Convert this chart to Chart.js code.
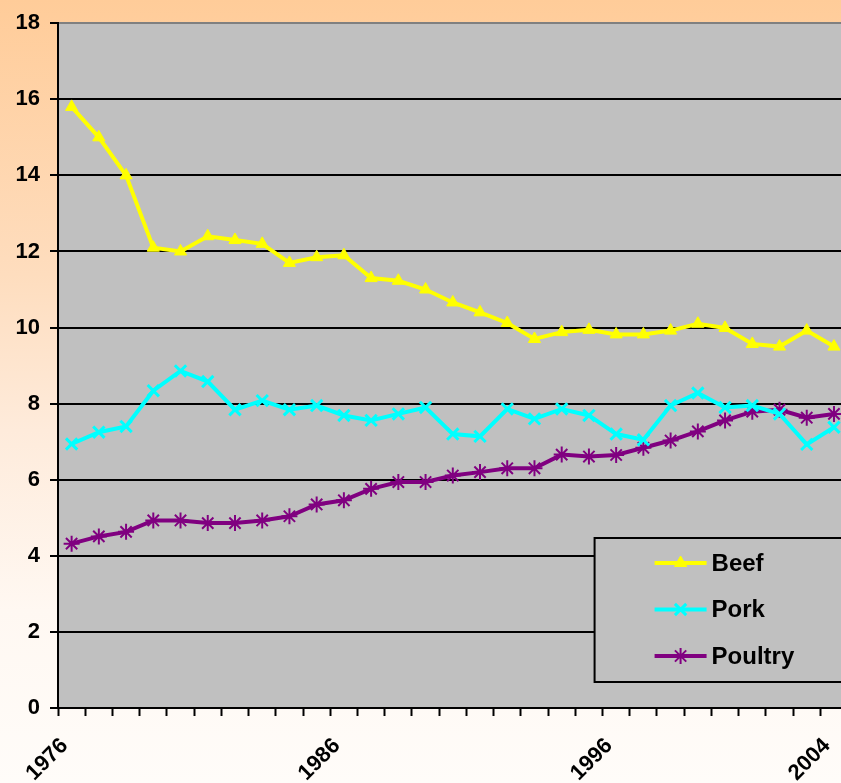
<!DOCTYPE html>
<html>
<head>
<meta charset="utf-8">
<title>Beef Pork Poultry</title>
<script src="https://cdn.jsdelivr.net/npm/chart.js@4/dist/chart.umd.min.js"></script>
<style>
  html, body { margin: 0; padding: 0; overflow: hidden; }
  body {
    width: 841px;
    height: 783px;
    background: linear-gradient(to bottom, #FFCC99 0%, #FEDDBE 35%, #FEEBDB 55%, #FFF8F2 78%, #FFFCF9 100%);
  }
  #contenedor { position: absolute; left: 0; top: 0; width: 870px; height: 783px; }
</style>
</head>
<body>
<div id="contenedor"><canvas id="grafico"></canvas></div>
<script>
const anios = [];
for (let a = 1976; a <= 2004; a++) anios.push(String(a));

const aniosVisibles = ["1976", "1986", "1996", "2004"];

const carneVacuna = [15.8, 15.0, 14.0, 12.1, 12.0, 12.4, 12.3, 12.2, 11.7, 11.85,
  11.9, 11.3, 11.23, 11.0, 10.66, 10.4, 10.12, 9.7, 9.88, 9.94,
  9.82, 9.82, 9.92, 10.1, 9.99, 9.57, 9.5, 9.92, 9.5];

const cerdo = [6.94, 7.25, 7.4, 8.34, 8.86, 8.58, 7.84, 8.08, 7.84, 7.95,
  7.69, 7.56, 7.73, 7.9, 7.2, 7.14, 7.86, 7.6, 7.86, 7.69,
  7.2, 7.05, 7.95, 8.28, 7.9, 7.95, 7.73, 6.93, 7.38];

const aves = [4.32, 4.51, 4.63, 4.93, 4.93, 4.86, 4.86, 4.93, 5.04, 5.35,
  5.46, 5.76, 5.94, 5.94, 6.11, 6.2, 6.3, 6.3, 6.66, 6.61,
  6.65, 6.84, 7.03, 7.27, 7.56, 7.79, 7.84, 7.63, 7.73];

const etiquetas = ["Beef", "Pork", "Poultry"];

const fuente = "'Liberation Sans', Arial, sans-serif";

// caja de leyenda dibujada dentro del area del grafico
const leyendaCaja = {
  id: "leyendaCaja",
  afterDatasetsDraw(chart) {
    const ctx = chart.ctx;
    const area = chart.chartArea;
    const x0 = area.right - 253;
    const y0 = area.bottom - 170;
    const alto = 144;

    ctx.save();
    ctx.fillStyle = "#C0C0C0";
    ctx.fillRect(x0, y0, 290, alto);
    ctx.strokeStyle = "#000";
    ctx.lineWidth = 2;
    ctx.strokeRect(x0, y0, 290, alto);

    chart.data.datasets.forEach((ds, i) => {
      const y = y0 + 25 + i * 46.5;
      ctx.strokeStyle = ds.borderColor;
      ctx.fillStyle = ds.backgroundColor;
      ctx.lineWidth = 4;
      ctx.beginPath();
      ctx.moveTo(x0 + 60, y);
      ctx.lineTo(x0 + 112, y);
      ctx.stroke();

      ctx.lineWidth = ds.pointBorderWidth;
      Chart.helpers.drawPoint(ctx, {
        pointStyle: ds.pointStyle,
        radius: ds.pointRadius,
        rotation: 0,
        borderWidth: ds.pointBorderWidth
      }, x0 + 86, y);

      ctx.fillStyle = "#000";
      ctx.font = "bold 24px " + fuente;
      ctx.textBaseline = "middle";
      ctx.textAlign = "left";
      ctx.fillText(ds.label, x0 + 117, y + 1);
    });
    ctx.restore();
  }
};

const fondoGris = {
  id: "fondoGris",
  beforeDraw(chart) {
    const a = chart.chartArea;
    chart.ctx.save();
    chart.ctx.fillStyle = "#C0C0C0";
    chart.ctx.fillRect(a.left, a.top, a.right - a.left, a.bottom - a.top);
    chart.ctx.restore();
  }
};

const data = {
  labels: anios,
  datasets: [
    {
      label: etiquetas[0],
      data: carneVacuna,
      borderColor: "#FFFF00",
      backgroundColor: "#FFFF00",
      borderWidth: 4,
      pointStyle: "triangle",
      pointRadius: 7,
      pointBorderWidth: 1,
      tension: 0
    },
    {
      label: etiquetas[1],
      data: cerdo,
      borderColor: "#00FFFF",
      backgroundColor: "#00FFFF",
      borderWidth: 4,
      pointStyle: "crossRot",
      pointRadius: 8,
      pointBorderWidth: 3,
      tension: 0
    },
    {
      label: etiquetas[2],
      data: aves,
      borderColor: "#800080",
      backgroundColor: "#800080",
      borderWidth: 4,
      pointStyle: "star",
      pointRadius: 8,
      pointBorderWidth: 2,
      tension: 0
    }
  ]
};

const config = {
  type: "line",
  data,
  plugins: [fondoGris, leyendaCaja],
  options: {
    responsive: true,
    maintainAspectRatio: false,
    animation: false,
    layout: { padding: { top: 22, right: 21, left: 0, bottom: 0 } },
    plugins: {
      legend: { display: false },
      tooltip: { enabled: false }
    },
    scales: {
      x: {
        type: "category",
        offset: true,
        afterFit: (scale) => { scale.height = 75; },
        border: { color: "#000", width: 2 },
        grid: {
          offset: true,
          drawOnChartArea: false,
          drawTicks: true,
          tickLength: 8,
          tickColor: "#000",
          tickWidth: 2
        },
        ticks: {
          autoSkip: false,
          maxRotation: 45,
          minRotation: 45,
          padding: 17,
          labelOffset: -7,
          color: "#000",
          font: { family: fuente, size: 22, weight: "bold" },
          callback: (val, i) => aniosVisibles.includes(anios[i]) ? anios[i] : ""
        }
      },
      y: {
        min: 0,
        max: 18,
        afterFit: (scale) => { scale.width = 58; },
        border: { color: "#000", width: 2 },
        grid: {
          color: (c) => c.tick && c.tick.value === 18 ? "#808080" : "#000",
          lineWidth: 2,
          drawTicks: true,
          tickLength: 8,
          tickColor: "#000",
          tickWidth: 2
        },
        ticks: {
          stepSize: 2,
          padding: 10,
          color: "#000",
          font: { family: fuente, size: 22, weight: "bold" }
        }
      }
    }
  }
};

const grafico = document.querySelector("#grafico");
window.grafica = new Chart(grafico, config);
</script>
</body>
</html>
